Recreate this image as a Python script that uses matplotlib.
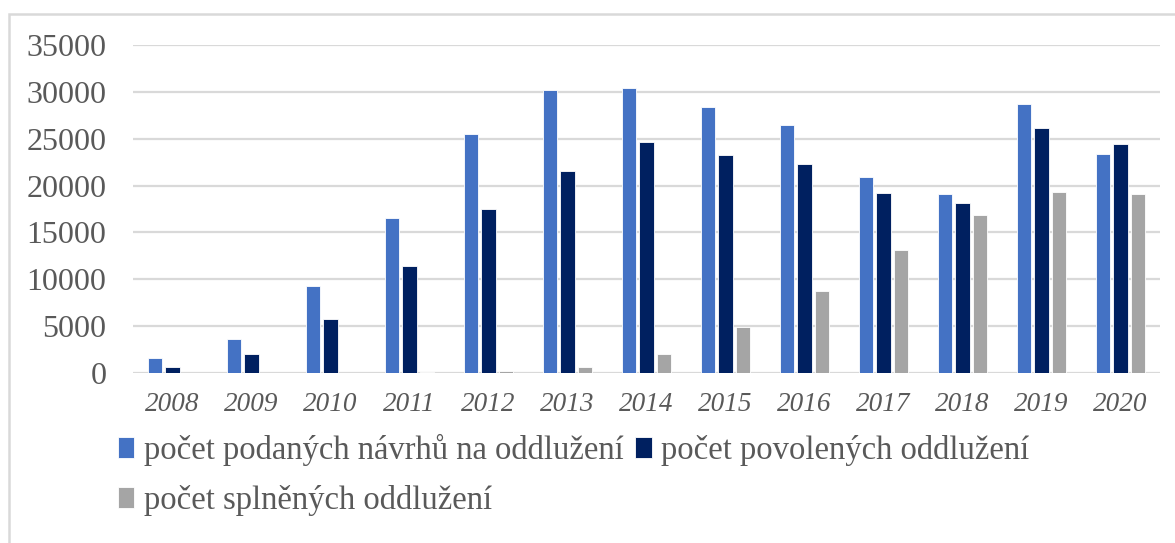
import numpy as np
import matplotlib
matplotlib.use("Agg")
from matplotlib import pyplot as plt
from matplotlib.patches import Rectangle

years = ["2008", "2009", "2010", "2011", "2012", "2013", "2014",
         "2015", "2016", "2017", "2018", "2019", "2020"]
podane = [1550, 3600, 9300, 16500, 25450, 30200, 30380,
          28400, 26450, 20920, 19050, 28700, 23380]
povolene = [600, 2070, 5800, 11400, 17450, 21550, 24700,
            23300, 22250, 19200, 18150, 26150, 24450]
splnene = [0, 0, 0, 100, 250, 680, 2030,
           4880, 8800, 13150, 16820, 19280, 19070]

labels = ["počet podaných návrhů na oddlužení",
          "počet povolených oddlužení",
          "počet splněných oddlužení"]
colors = ["#4472C4", "#002060", "#A5A5A5"]
yticks = [0, 5000, 10000, 15000, 20000, 25000, 30000, 35000]

text_col = "#595959"
grid_col = "#D9D9D9"

plt.rcParams["font.family"] = ["Liberation Serif", "DejaVu Serif"]

fig = plt.figure(figsize=(11.75, 5.43), dpi=100)
ax = fig.add_axes([133 / 1175, 170 / 543, 1027 / 1175, 328 / 543])

x = np.arange(len(years))
off = 0.22
w = 0.18
bars = []
for i, (vals, lab, col) in enumerate(zip([podane, povolene, splnene], labels, colors)):
    b = ax.bar(x + (i - 1) * off, vals, width=w, color=col, label=lab,
               edgecolor="white", linewidth=0.6, zorder=3)
    bars.append(b)

ax.set_xlim(-0.5, len(years) - 0.5)
ax.set_ylim(0, 35000)
ax.set_yticks(yticks)
ax.set_yticklabels([str(t) for t in yticks])
ax.set_xticks(x)
ax.set_xticklabels(years, fontstyle="italic")
ax.grid(axis="y", color=grid_col, linewidth=1.6, zorder=0)
for s in ax.spines.values():
    s.set_visible(False)
ax.tick_params(axis="y", length=0, pad=19, labelsize=23, labelcolor=text_col)
ax.tick_params(axis="x", length=0, pad=14, labelsize=19.5, labelcolor=text_col)

# legend fills row by row like in Excel: first two on row 1, third on row 2
order = [0, 2, 1]
leg = ax.legend([bars[k] for k in order], [labels[k] for k in order],
                loc="upper left", bbox_to_anchor=(118 / 1175, 1 - 434 / 543),
                bbox_transform=fig.transFigure, ncol=2, frameon=False,
                fontsize=23.5, handlelength=0.5, handleheight=0.6,
                handletextpad=0.3, columnspacing=0.35, labelspacing=0.58,
                borderaxespad=0, borderpad=0)
for t in leg.get_texts():
    t.set_color(text_col)

# outer chart border (cut off at the right and bottom)
fig.patches.append(Rectangle((9 / 1175, -0.1), 1.2, 0.1 + (543 - 14) / 543,
                             transform=fig.transFigure, fill=False,
                             edgecolor=grid_col, linewidth=1.8))

fig.savefig("out.png", dpi=100)
